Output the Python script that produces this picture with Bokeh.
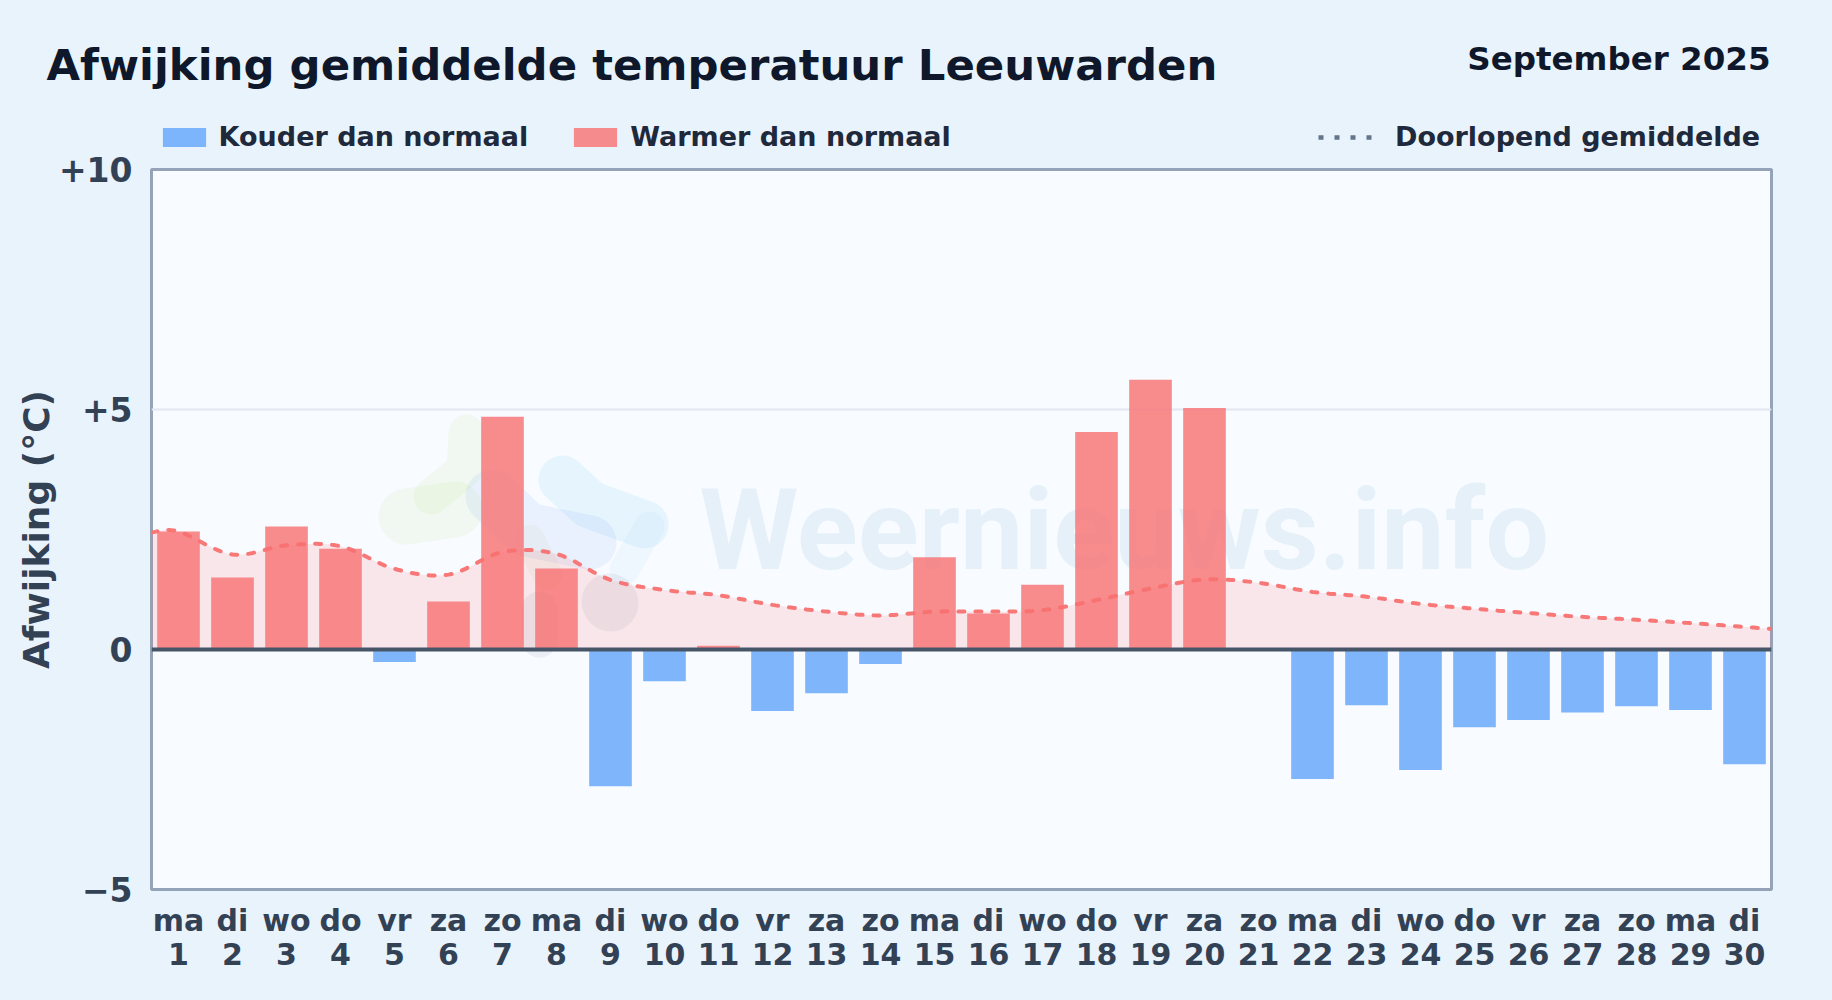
import numpy as np
from bokeh.plotting import figure
from bokeh.layouts import column
from bokeh.embed import file_html
from bokeh.resources import INLINE
from bokeh.models import (ColumnDataSource, FixedTicker, Label, Legend, LegendItem, Span,
                          GlobalInlineStyleSheet, Range1d)
from bokeh.core.properties import value

# ---- data ----
weekdays = ["ma","di","wo","do","vr","za","zo","ma","di","wo","do","vr","za","zo","ma",
            "di","wo","do","vr","za","zo","ma","di","wo","do","vr","za","zo","ma","di"]
days = list(range(1, 31))
deviation = [2.46, 1.50, 2.56, 2.10, -0.26, 1.00, 4.85, 1.69, -2.85, -0.66,
             0.08, -1.28, -0.91, -0.30, 1.92, 0.75, 1.35, 4.53, 5.62, 5.03,
             0.0, -2.70, -1.16, -2.51, -1.62, -1.47, -1.31, -1.18, -1.26, -2.39]
running_x = [0.5] + days + [30.5]
running = [2.44, 2.46, 1.98, 2.17, 2.15, 1.68, 1.56, 2.03, 1.99, 1.45, 1.24,
           1.13, 0.93, 0.79, 0.71, 0.79, 0.79, 0.82, 1.03, 1.27, 1.46,
           1.39, 1.20, 1.10, 0.95, 0.85, 0.76, 0.68, 0.62, 0.55, 0.47, 0.43]
y_ticks = [-5, 0, 5, 10]
y_tick_labels = {-5: "\u22125", 0: "0", 5: "+5", 10: "+10"}

FONT = "DejaVu Sans"
PAGE = "#e9f3fc"
HEAD = 155
OVERLAP = 14

def smooth(xs, ys, n=16):
    """Cardinal-spline drawing path through the read values."""
    xs, ys = np.asarray(xs, float), np.asarray(ys, float)
    X, Y = [], []
    for i in range(len(xs) - 1):
        i0, i3 = max(i - 1, 0), min(i + 2, len(xs) - 1)
        tx0 = (xs[i + 1] - xs[i0]) / 2
        tx1 = (xs[i3] - xs[i]) / 2
        ty0 = (ys[i + 1] - ys[i0]) / 2
        ty1 = (ys[i3] - ys[i]) / 2
        for t in np.linspace(0, 1, n, endpoint=False):
            h00 = 2*t**3 - 3*t**2 + 1; h10 = t**3 - 2*t**2 + t
            h01 = -2*t**3 + 3*t**2;    h11 = t**3 - t**2
            X.append(h00*xs[i] + h10*tx0 + h01*xs[i+1] + h11*tx1)
            Y.append(h00*ys[i] + h10*ty0 + h01*ys[i+1] + h11*ty1)
    X.append(xs[-1]); Y.append(ys[-1])
    return X, Y

# ---- header strip: headings and legends ----
h = figure(width=1832, height=HEAD, output_backend="svg", toolbar_location=None,
           x_range=Range1d(0, 1832), y_range=Range1d(0, HEAD),
           x_axis_location=None, y_axis_location=None, min_border=0, frame_align=False,
           background_fill_color=PAGE, border_fill_color=PAGE, outline_line_color=None)
h.grid.visible = False
h.stylesheets = [GlobalInlineStyleSheet(css="html,body{background:%s}" % PAGE)]

k_cold = h.vbar(x=[-50], top=[-50], bottom=[-60], width=1, fill_color="#60a5fa", fill_alpha=0.8, line_color=None)
k_warm = h.vbar(x=[-50], top=[-50], bottom=[-60], width=1, fill_color="#f87171", fill_alpha=0.8, line_color=None)
k_line = h.line([-60, -50], [-50, -50], line_color="#64748b", line_width=4.5, line_dash="5 11")

def legend(items, x, gw, standoff, gh):
    h.add_layout(Legend(items=items, location=(x, 3), orientation="horizontal", margin=0, padding=0,
                        background_fill_alpha=0, border_line_alpha=0, glyph_width=gw, glyph_height=gh,
                        label_text_font=FONT, label_text_font_style="bold", label_text_font_size="27px",
                        label_text_color="#1e293b", label_standoff=standoff, spacing=40), "center")

legend([LegendItem(label="Kouder dan normaal", renderers=[k_cold]),
        LegendItem(label="Warmer dan normaal", renderers=[k_warm])], 156.6, 54, 8, 24)
legend([LegendItem(label="Doorlopend gemiddelde", renderers=[k_line])], 1318, 55, 22, 24)

h.add_layout(Label(x=46, y=HEAD - 64, text="Afwijking gemiddelde temperatuur Leeuwarden", text_font=FONT,
                   text_font_style="bold", text_font_size="43.4px", text_color="#0f172a",
                   text_baseline="alphabetic"))
h.add_layout(Label(x=1770, y=HEAD - 58, text="September 2025", text_font=FONT, text_align="right",
                   text_font_style="bold", text_font_size="32.5px", text_color="#0f172a",
                   text_baseline="alphabetic"))

# ---- main chart (its transparent top border overlaps the header strip) ----
p = figure(width=1832, height=1000 - HEAD + OVERLAP, output_backend="svg", toolbar_location=None,
           x_range=Range1d(0.5, 30.5), y_range=Range1d(-5, 10), frame_align=False,
           min_border_left=151, min_border_right=61, min_border_top=169 - HEAD + OVERLAP, min_border_bottom=111,
           background_fill_color="#f8fbff", border_fill_color=None,
           outline_line_color="#94a3b8", outline_line_width=3)
p.margin = (-OVERLAP, 0, 0, 0)

# watermark, in pixel positions of the plot frame
def fx(px): return [(v - 152) / 54 + 0.5 for v in px]
def fy(py): return [(650 - v) / 48 for v in py]

blobs = [
    ("#84cc16", 0.06, 36, [467, 465, 432], [433, 470, 497]),
    ("#84cc16", 0.06, 56, [407, 455], [517, 510]),
    ("#a3a316", 0.05, 30, [530, 548], [540, 575]),
    ("#0ea5e9", 0.08, 48, [563, 590, 645], [480, 505, 525]),
    ("#0ea5e9", 0.04, 30, [650, 625], [527, 570]),
    ("#3b82f6", 0.08, 54, [493, 527, 590], [497, 530, 543]),
    ("#64748b", 0.09, 56, [610, 611], [602, 604]),
    ("#64748b", 0.09, 36, [540, 540], [610, 640]),
]
for col, alpha, w, xs, ys in blobs:
    p.line(fx(xs), fy(ys), line_color=col, line_alpha=alpha, line_width=w, line_cap="round", line_join="round")

p.text(x=fx([700]), y=fy([531]), text=["Weernieuws.info"], text_font=value("Roboto"),
       text_font_style="bold", text_font_size="113px", text_color="#1e6fb0", text_alpha=0.08,
       text_baseline="alphabetic")

# running mean area + bars + line
lx, ly = smooth(running_x, running)
p.varea(x=lx, y1=[0] * len(lx), y2=ly, fill_color="#f87171", fill_alpha=0.15)

cold = ColumnDataSource(dict(x=[d for d, v in zip(days, deviation) if v < 0],
                             top=[v for v in deviation if v < 0]))
warm = ColumnDataSource(dict(x=[d for d, v in zip(days, deviation) if v > 0],
                             top=[v for v in deviation if v > 0]))
p.vbar(x="x", top="top", bottom=0, width=0.79, source=cold,
       fill_color="#60a5fa", fill_alpha=0.8, line_color=None)
p.vbar(x="x", top="top", bottom=0, width=0.79, source=warm,
       fill_color="#f87171", fill_alpha=0.8, line_color=None)
p.line(lx, ly, line_color="#f87171", line_alpha=0.95, line_width=4, line_dash="6 11", line_cap="round")

p.add_layout(Span(location=0, dimension="width", line_color="#475569", line_width=4))

# axes
p.xgrid.visible = False
p.ygrid.ticker = FixedTicker(ticks=[5])
p.ygrid.grid_line_color = "#e2e8f0"
p.ygrid.grid_line_width = 2

xa = p.xaxis[0]
xa.ticker = FixedTicker(ticks=days)
xa.major_label_overrides = {d: f"{w}\n{d}" for d, w in zip(days, weekdays)}
xa.major_label_text_font = FONT
xa.major_label_text_font_style = "bold"
xa.major_label_text_font_size = "30px"
xa.major_label_text_color = "#334155"
xa.major_label_text_line_height = 0.98
xa.major_label_standoff = 13
xa.major_tick_out = 0
xa.axis_line_color = None
xa.major_tick_line_color = None
xa.minor_tick_line_color = None

ya = p.yaxis[0]
ya.ticker = FixedTicker(ticks=y_ticks)
ya.major_label_overrides = y_tick_labels
ya.major_label_text_font = FONT
ya.major_label_text_font_style = "bold"
ya.major_label_text_font_size = "33px"
ya.major_label_text_color = "#334155"
ya.major_label_standoff = 19
ya.major_tick_out = 0
ya.axis_line_color = None
ya.major_tick_line_color = None
ya.minor_tick_line_color = None
ya.axis_label = "Afwijking (°C)"
ya.axis_label_text_font = FONT
ya.axis_label_text_font_style = "bold"
ya.axis_label_text_font_size = "36px"
ya.axis_label_text_color = "#334155"
ya.axis_label_standoff = -1

open("out.html", "w").write(file_html(column(h, p, spacing=0), INLINE))
